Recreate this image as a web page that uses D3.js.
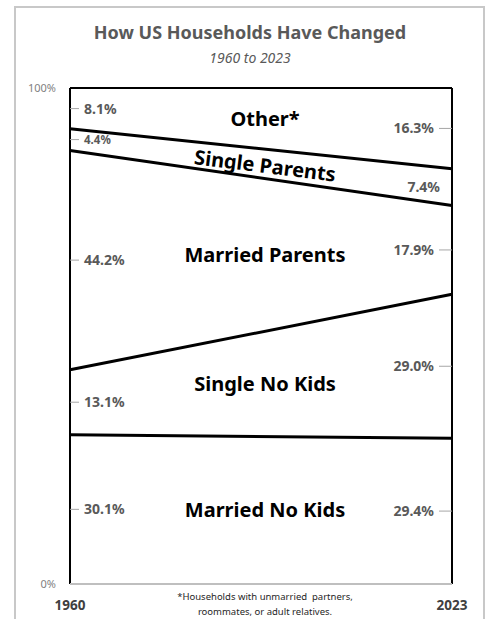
<!DOCTYPE html>
<html>
<head>
<meta charset="utf-8">
<script src="https://cdn.jsdelivr.net/npm/d3@7"></script>
<style>
  body { margin: 0; background: #fff; }
  svg { display: block; }
</style>
</head>
<body>
<div id="chart"></div>
<script>
// household shares, bottom layer first
var categories = ["Married No Kids", "Single No Kids", "Married Parents", "Single Parents", "Other*"];
var years = [1960, 2023];
var share1960 = [30.1, 13.1, 44.2, 4.4, 8.1];
var share2023 = [29.4, 29.0, 17.9, 7.4, 16.3];
var yTicks = [0, 100];

var W = 487, H = 619;

var svg = d3.select("#chart").append("svg")
    .attr("width", W)
    .attr("height", H);

// card border
svg.append("rect")
    .attr("x", 15).attr("y", 7)
    .attr("width", 469).attr("height", 640)
    .attr("fill", "#fff")
    .attr("stroke", "#c8c8c8")
    .attr("stroke-width", 2);

svg.append("text")
    .attr("x", 250).attr("y", 39)
    .attr("text-anchor", "middle")
    .style("font-family", "Noto Sans")
    .style("font-weight", "bold")
    .style("font-size", "18px")
    .attr("fill", "#595959")
    .text("How US Households Have Changed");

svg.append("text")
    .attr("x", 250).attr("y", 63)
    .attr("text-anchor", "middle")
    .style("font-family", "Noto Sans")
    .style("font-style", "italic")
    .style("font-size", "14px")
    .attr("fill", "#595959")
    .text("1960 to 2023");

var x = d3.scaleLinear().domain(d3.extent(years)).range([70, 452]);
var y = d3.scaleLinear().domain([0, 100]).range([584, 88]);

var rows = years.map(function(yr, i) {
    var r = {year: yr};
    categories.forEach(function(c, j) { r[c] = (i === 0 ? share1960 : share2023)[j]; });
    return r;
});
var series = d3.stack().keys(categories)(rows);

// plot frame
svg.append("line").attr("x1", x(1960)).attr("x2", x(2023)).attr("y1", y(100)).attr("y2", y(100))
    .attr("stroke", "#000").attr("stroke-width", 2);
svg.append("line").attr("x1", x(1960)).attr("x2", x(1960)).attr("y1", y(100)).attr("y2", y(0))
    .attr("stroke", "#000").attr("stroke-width", 2);
svg.append("line").attr("x1", x(2023)).attr("x2", x(2023)).attr("y1", y(100)).attr("y2", y(0))
    .attr("stroke", "#000").attr("stroke-width", 2);
svg.append("line").attr("x1", x(1960)).attr("x2", x(2023)).attr("y1", y(0)).attr("y2", y(0))
    .attr("stroke", "#bfbfbf").attr("stroke-width", 2);

// boundaries between layers
var line = d3.line()
    .x(function(d) { return x(d.data.year); })
    .y(function(d) { return y(d[1]); });

svg.selectAll(".boundary")
    .data(series.slice(0, series.length - 1))
    .enter()
    .append("path")
    .attr("class", "boundary")
    .attr("d", line)
    .attr("fill", "none")
    .attr("stroke", "#000")
    .attr("stroke-width", 3);

// y axis end labels
svg.selectAll(".ylab")
    .data(yTicks)
    .enter()
    .append("text")
    .attr("x", 56)
    .attr("y", function(d) { return y(d) + 4; })
    .attr("text-anchor", "end")
    .style("font-family", "Noto Sans")
    .style("font-size", "11px")
    .attr("fill", "#7f7f7f")
    .text(function(d) { return d + "%"; });

// year labels
svg.selectAll(".xlab")
    .data(years)
    .enter()
    .append("text")
    .attr("x", function(d) { return x(d); })
    .attr("y", 610)
    .attr("text-anchor", "middle")
    .style("font-family", "Noto Sans")
    .style("font-weight", "bold")
    .style("font-size", "13.5px")
    .attr("fill", "#404040")
    .text(function(d) { return d; });

// value labels at each side
function mid(s, i) { return y((s[i][0] + s[i][1]) / 2); }

series.forEach(function(s, j) {
    var small = s.key === "Single Parents";
    var ly = mid(s, 0), ry = mid(s, 1);
    svg.append("line").attr("x1", x(1960)).attr("x2", x(1960) + 9).attr("y1", ly).attr("y2", ly)
        .attr("stroke", "#a6a6a6").attr("stroke-width", 1);
    svg.append("text")
        .attr("x", x(1960) + 14).attr("y", ly + (small ? 4 : 5))
        .style("font-family", "Noto Sans")
        .style("font-weight", "bold")
        .style("font-size", small ? "11.5px" : "14px")
        .attr("fill", "#595959")
        .text(share1960[j].toFixed(1) + "%");
    if (!small) {
        svg.append("line").attr("x1", x(2023) - 13).attr("x2", x(2023)).attr("y1", ry).attr("y2", ry)
            .attr("stroke", "#a6a6a6").attr("stroke-width", 1);
    }
    svg.append("text")
        .attr("x", small ? x(2023) - 12 : x(2023) - 18).attr("y", ry + 5)
        .attr("text-anchor", "end")
        .style("font-family", "Noto Sans")
        .style("font-weight", "bold")
        .style("font-size", "14px")
        .attr("fill", "#595959")
        .text(share2023[j].toFixed(1) + "%");
});

// category names inside the bands
var cx = 265;
series.forEach(function(s) {
    var tt = (cx - x(1960)) / (x(2023) - x(1960));
    var lo = s[0][0] + (s[1][0] - s[0][0]) * tt;
    var hi = s[0][1] + (s[1][1] - s[0][1]) * tt;
    var g = svg.append("g");
    if (s.key === "Single Parents") {
        var ang = Math.atan2(y(s[1][1]) - y(s[0][1]) + y(s[1][0]) - y(s[0][0]), 2 * (x(2023) - x(1960))) * 180 / Math.PI;
        g.attr("transform", "translate(" + cx + "," + (y((lo + hi) / 2) + 2) + ") rotate(" + ang + ")");
    } else {
        g.attr("transform", "translate(" + cx + "," + y((lo + hi) / 2) + ")");
    }
    g.append("text")
        .attr("text-anchor", "middle")
        .attr("dy", "0.35em")
        .style("font-family", "Noto Sans")
        .style("font-weight", "bold")
        .style("font-size", "20px")
        .attr("fill", "#000")
        .text(s.key);
});

// footnote
svg.append("text")
    .attr("x", 265).attr("y", 600)
    .attr("text-anchor", "middle")
    .attr("xml:space", "preserve")
    .style("font-family", "Noto Sans")
    .style("font-size", "9.5px")
    .attr("fill", "#262626")
    .text("*Households with unmarried  partners,");
svg.append("text")
    .attr("x", 265).attr("y", 615)
    .attr("text-anchor", "middle")
    .style("font-family", "Noto Sans")
    .style("font-size", "9.5px")
    .attr("fill", "#262626")
    .text("roommates, or adult relatives.");
</script>
</body>
</html>
